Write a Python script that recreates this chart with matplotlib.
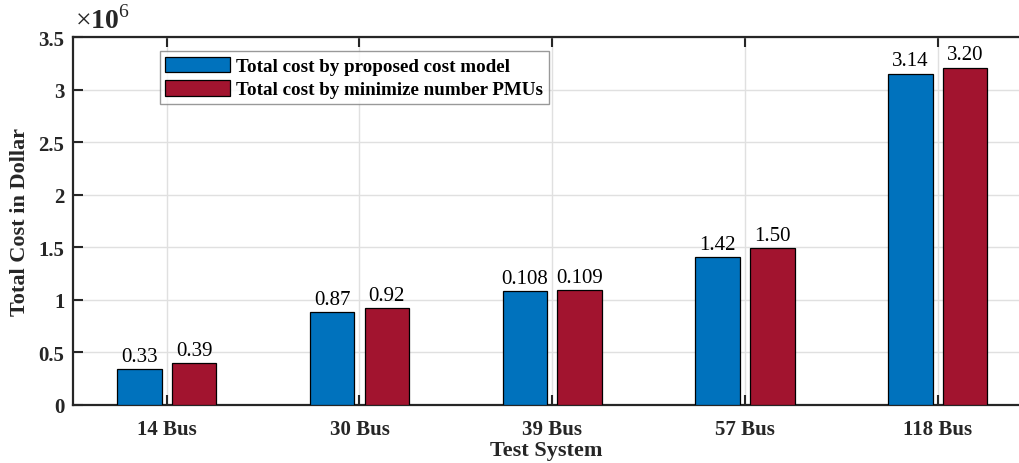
import matplotlib
matplotlib.use("Agg")
from matplotlib import pyplot as plt
import numpy as np

# Data (values in dollars)
systems = ["14 Bus", "30 Bus", "39 Bus", "57 Bus", "118 Bus"]
proposed = [0.337e6, 0.879e6, 1.079e6, 1.403e6, 3.154e6]
min_pmus = [0.394e6, 0.923e6, 1.092e6, 1.491e6, 3.211e6]
proposed_labels = ["0.33", "0.87", "0.108", "1.42", "3.14"]
min_pmus_labels = ["0.39", "0.92", "0.109", "1.50", "3.20"]

plt.rcParams['font.family'] = ['Liberation Serif', 'DejaVu Serif']
plt.rcParams['mathtext.fontset'] = 'custom'
plt.rcParams['mathtext.rm'] = 'Liberation Serif'
plt.rcParams['mathtext.bf'] = 'Liberation Serif:bold'

blue = (0/255, 114/255, 189/255)
red = (162/255, 20/255, 47/255)
axis_col = (0.15, 0.15, 0.15)

fig = plt.figure(figsize=(10.19, 4.64), dpi=100)
ax = fig.add_axes([72.7/1019, 1 - 405.7/464, 1 - 72.7/1019, 367.4/464])

x = np.arange(1, len(systems) + 1)
w = 0.23
off = 0.142
b1 = ax.bar(x - off, np.array(proposed) / 1e6, w, color=blue, edgecolor='black',
            linewidth=0.9, label='Total cost by proposed cost model', zorder=3)
b2 = ax.bar(x + off, np.array(min_pmus) / 1e6, w, color=red, edgecolor='black',
            linewidth=0.9, label='Total cost by minimize number PMUs', zorder=3)

for bars, labs in [(b1, proposed_labels), (b2, min_pmus_labels)]:
    for bar, lab in zip(bars, labs):
        ax.text(bar.get_x() + bar.get_width() / 2, bar.get_height() + 0.03, lab,
                ha='center', va='bottom', fontsize=15, color='black', zorder=4)

ax.set_xlim(0.512, 1 + (1019 - 166.7) / 192.75)
ax.set_ylim(0, 3.5)
ax.set_xticks(x)
ax.set_xticklabels(systems)
ax.set_yticks(np.arange(0, 3.51, 0.5))
ax.set_yticklabels(["0", "0.5", "1", "1.5", "2", "2.5", "3", "3.5"])

for lab in ax.get_xticklabels() + ax.get_yticklabels():
    lab.set_fontweight('bold')
    lab.set_fontsize(15)
    lab.set_color(axis_col)

ax.tick_params(direction='in', length=7, width=1.5, color=axis_col, top=True)
ax.tick_params(axis='x', pad=10)
ax.tick_params(axis='y', pad=6)
ax.grid(True, color=(0.88, 0.88, 0.88), linewidth=1, zorder=0)
ax.set_axisbelow(True)

for s in ['left', 'bottom', 'top']:
    ax.spines[s].set_linewidth(1.6)
    ax.spines[s].set_color(axis_col)
ax.spines['right'].set_visible(False)

ax.set_xlabel('Test System', fontsize=16, fontweight='bold', color=axis_col, labelpad=1)
ax.set_ylabel('Total Cost in Dollar', fontsize=16, fontweight='bold', color=axis_col, labelpad=6)
ax.text(0.002, 1.01, r'$\times\mathbf{10}^{\mathrm{6}}$', transform=ax.transAxes, fontsize=20,
        color=axis_col, ha='left', va='bottom')

leg = ax.legend(loc='upper left', bbox_to_anchor=(0.092, 0.963),
                prop={'weight': 'bold', 'size': 13.7}, frameon=True, fancybox=False,
                edgecolor=(0.5, 0.5, 0.5), handlelength=3.4, handleheight=0.9,
                borderpad=0.3, labelspacing=0.25, handletextpad=0.3, borderaxespad=0)
leg.get_frame().set_linewidth(1.0)

fig.savefig('out.png', dpi=100)
